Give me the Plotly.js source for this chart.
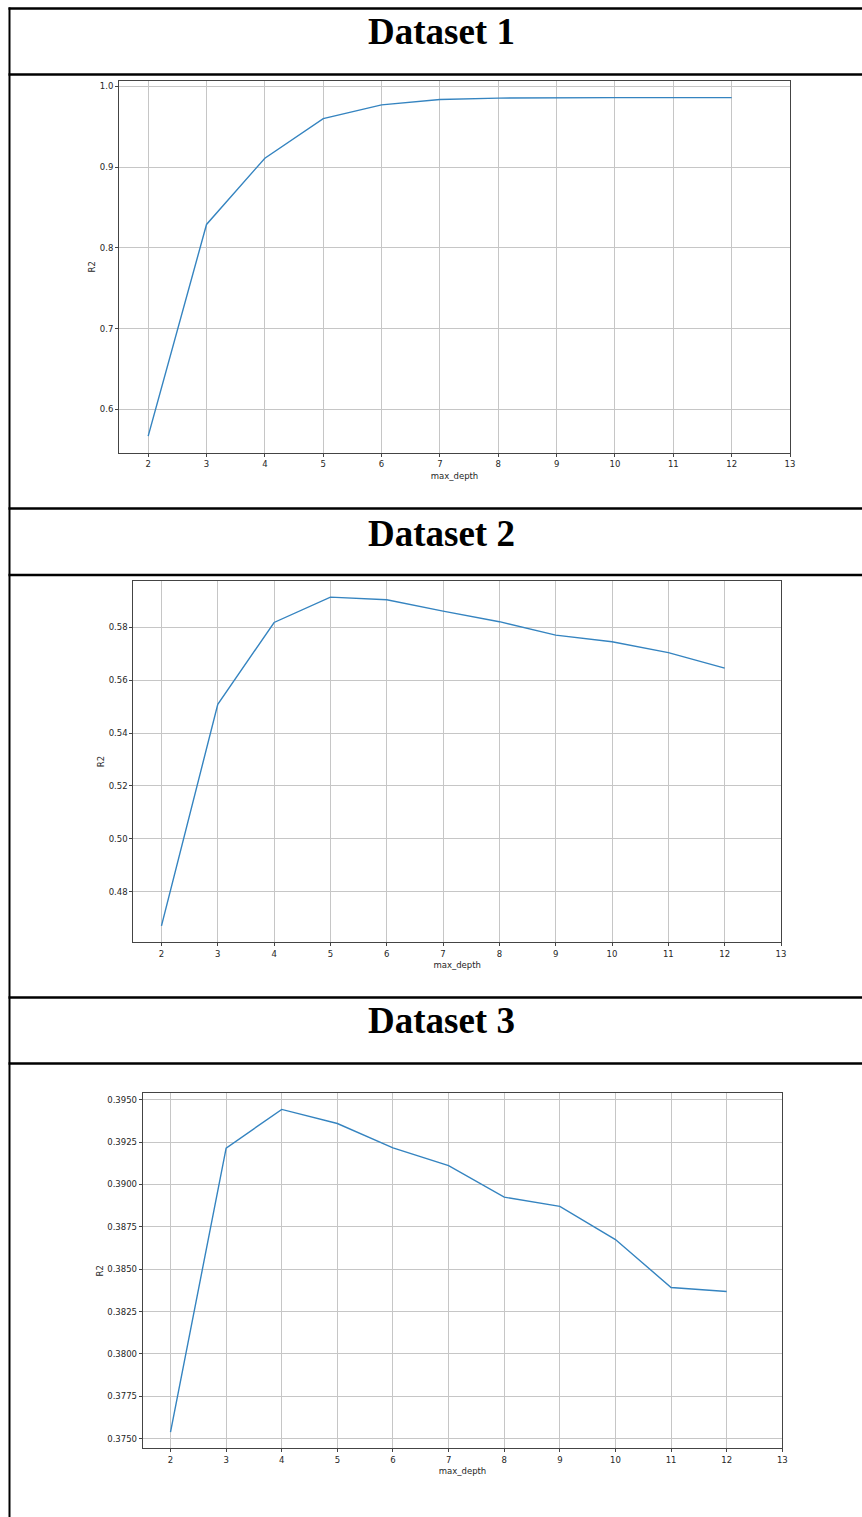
<!DOCTYPE html>
<html>
<head>
<meta charset="utf-8">
<script src="https://cdn.plot.ly/plotly-3.0.1.min.js"></script>
<style>
  html, body { margin: 0; padding: 0; background: #ffffff; }
  #chart { width: 862px; height: 1517px; }
</style>
</head>
<body>
<div id="chart"></div>
<script>
// ---- data ----
const datasetTitles = ["Dataset 1", "Dataset 2", "Dataset 3"];
const maxDepth = [2, 3, 4, 5, 6, 7, 8, 9, 10, 11, 12];
const r2Dataset1 = [0.567, 0.829, 0.911, 0.960, 0.977, 0.9836, 0.9854, 0.986, 0.986, 0.986, 0.986];
const r2Dataset2 = [0.467, 0.5509, 0.5819, 0.5915, 0.5905, 0.5862, 0.5822, 0.5771, 0.5746, 0.5705, 0.5646];
const r2Dataset3 = [0.37538, 0.39215, 0.39443, 0.39360, 0.39216, 0.39111, 0.38925, 0.38871, 0.38675, 0.38392, 0.38368];
const xTickVals = [2, 3, 4, 5, 6, 7, 8, 9, 10, 11, 12, 13];
const yTicks1 = [0.6, 0.7, 0.8, 0.9, 1.0];
const yTicks2 = [0.48, 0.50, 0.52, 0.54, 0.56, 0.58];
const yTicks3 = [0.3750, 0.3775, 0.3800, 0.3825, 0.3850, 0.3875, 0.3900, 0.3925, 0.3950];
const xLabel = "max_depth";
const yLabel = "R2";

// ---- layout helpers ----
const W = 862, H = 1517;
const px = x => x / W;
const py = y => 1 - y / H;

function yRange(vals) {
  const lo = Math.min(...vals), hi = Math.max(...vals);
  const m = (hi - lo) * 0.05;
  return [lo - m, hi + m];
}

const tickFont = { family: "DejaVu Sans", size: 8.5, color: "#262626" };
const lineColor = "#3584c0";

function xAxis(domain, anchor) {
  return {
    domain: domain, anchor: anchor,
    range: [1.5, 13],
    tickvals: xTickVals,
    ticktext: xTickVals.map(String),
    ticks: "outside", ticklen: 3, tickwidth: 1, tickcolor: "#444",
    showgrid: true, gridcolor: "#c6c6c6", gridwidth: 1,
    showline: true, mirror: true, linecolor: "#444", linewidth: 1,
    zeroline: false, automargin: false,
    tickfont: tickFont,
    title: { text: xLabel, font: tickFont, standoff: 4 }
  };
}
function yAxis(domain, anchor, vals, ticks, fmt) {
  return {
    domain: domain, anchor: anchor,
    range: yRange(vals),
    tickvals: ticks,
    tickformat: fmt,
    ticks: "outside", ticklen: 3, tickwidth: 1, tickcolor: "#444",
    showgrid: true, gridcolor: "#c6c6c6", gridwidth: 1,
    showline: true, mirror: true, linecolor: "#444", linewidth: 1,
    zeroline: false, automargin: false,
    tickfont: tickFont,
    title: { text: yLabel, font: tickFont, standoff: 2 }
  };
}

const traces = [
  { x: maxDepth, y: r2Dataset1, xaxis: "x", yaxis: "y", type: "scatter", mode: "lines",
    line: { color: lineColor, width: 1.4 }, showlegend: false },
  { x: maxDepth, y: r2Dataset2, xaxis: "x2", yaxis: "y2", type: "scatter", mode: "lines",
    line: { color: lineColor, width: 1.4 }, showlegend: false },
  { x: maxDepth, y: r2Dataset3, xaxis: "x3", yaxis: "y3", type: "scatter", mode: "lines",
    line: { color: lineColor, width: 1.4 }, showlegend: false }
];

// table borders
const hLines = [8.5, 74.5, 508.5, 575, 997.5, 1063.5];
const shapes = hLines.map(y => ({
  type: "line", xref: "paper", yref: "paper",
  x0: px(8.5), x1: px(W + 5), y0: py(y), y1: py(y),
  line: { color: "#000", width: 2.5 }
}));
shapes.push({
  type: "line", xref: "paper", yref: "paper",
  x0: px(9.5), x1: px(9.5), y0: py(7.5), y1: py(H + 5),
  line: { color: "#000", width: 2 }
});

const titleY = [32, 533, 1021];
const annotations = datasetTitles.map((t, i) => ({
  text: "<b>" + t + "</b>", xref: "paper", yref: "paper",
  x: px(441.5), y: py(titleY[i]), xanchor: "center", yanchor: "middle",
  showarrow: false,
  font: { family: "Liberation Serif", size: 37, color: "#000" }
}));

const layout = {
  width: W, height: H,
  margin: { l: 0, r: 0, t: 0, b: 0, pad: 0 },
  paper_bgcolor: "#ffffff", plot_bgcolor: "#ffffff",
  showlegend: false,
  xaxis: xAxis([px(119), px(790)], "y"),
  yaxis: yAxis([py(453), py(80.7)], "x", r2Dataset1, yTicks1, ".1f"),
  xaxis2: xAxis([px(133.3), px(781)], "y2"),
  yaxis2: yAxis([py(942.3), py(580.7)], "x2", r2Dataset2, yTicks2, ".2f"),
  xaxis3: xAxis([px(142.7), px(782.3)], "y3"),
  yaxis3: yAxis([py(1448.3), py(1093.3)], "x3", r2Dataset3, yTicks3, ".4f"),
  shapes: shapes,
  annotations: annotations
};

Plotly.newPlot("chart", traces, layout, { staticPlot: true, displayModeBar: false });
</script>
</body>
</html>
